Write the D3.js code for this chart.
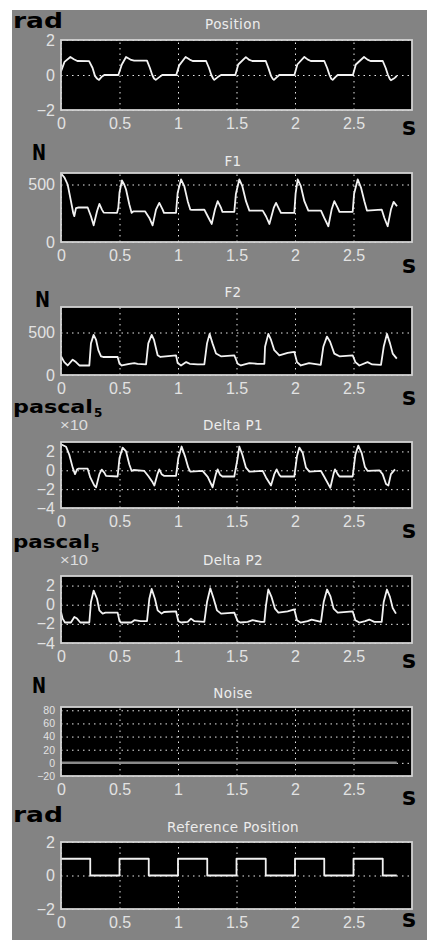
<!DOCTYPE html>
<html>
<head>
<meta charset="utf-8">
<script src="https://cdn.jsdelivr.net/npm/d3@7"></script>
<style>
  body { margin: 0; background: #fff; }
  svg { display: block; }
</style>
</head>
<body>
<div id="chart"></div>
<script>
// values (time in s)
const xTicks = [0, 0.5, 1, 1.5, 2, 2.5];
const titles = ["Position", "F1", "F2", "Delta P1", "Delta P2", "Noise", "Reference Position"];
const units = ["rad", "N", "N", "pascal", "pascal", "N", "rad"];
const yDomains = [[-2, 2], [0, 600], [0, 800], [-4, 3], [-4, 3], [-20, 85], [-2, 2]];
const yTicks = [[-2, 0, 2], [0, 500], [0, 500], [-4, -2, 0, 2], [-4, -2, 0, 2], [-20, 0, 20, 40, 60, 80], [-2, 0, 2]];

const position = [
  [0,0.2],[0.03,0.75],[0.08,1.03],[0.11,0.9],[0.14,0.8],[0.24,0.79],[0.27,0.4],[0.29,-0.05],[0.31,-0.22],[0.325,-0.28],[0.345,-0.12],[0.37,0],[0.49,0],
  [0.52,0.6],[0.556,1.03],[0.6,0.86],[0.625,0.82],[0.735,0.82],[0.76,0.4],[0.78,0],[0.795,-0.2],[0.81,-0.28],[0.835,-0.15],[0.865,0],[0.985,0],
  [1.01,0.55],[1.065,1.03],[1.1,0.88],[1.125,0.8],[1.24,0.8],[1.265,0.4],[1.285,0],[1.3,-0.2],[1.31,-0.28],[1.34,-0.12],[1.368,0],[1.49,0],
  [1.515,0.6],[1.58,1.02],[1.61,0.86],[1.635,0.8],[1.75,0.8],[1.775,0.35],[1.795,-0.05],[1.81,-0.22],[1.82,-0.28],[1.845,-0.12],[1.866,0],[1.995,0],
  [2.02,0.6],[2.08,1.03],[2.11,0.88],[2.135,0.8],[2.25,0.8],[2.275,0.4],[2.295,0],[2.31,-0.22],[2.322,-0.28],[2.345,-0.12],[2.365,0],[2.495,0],
  [2.52,0.6],[2.59,1.03],[2.62,0.88],[2.645,0.8],[2.75,0.8],[2.775,0.4],[2.795,0],[2.81,-0.22],[2.82,-0.3],[2.845,-0.2],[2.855,-0.15],[2.87,-0.05]
];

const f1 = [
  [0,590],[0.01,585],[0.03,560],[0.057,500],[0.085,355],[0.105,250],[0.114,225],[0.128,295],[0.15,300],[0.228,300],[0.256,224],[0.279,145],[0.308,267],[0.328,331],[0.35,282],[0.365,255],[0.479,253],
  [0.49,300],[0.5,430],[0.521,535],[0.54,500],[0.556,456],[0.584,326],[0.604,253],[0.62,267],[0.718,267],[0.755,209],[0.783,145],[0.812,282],[0.84,340],[0.869,282],[0.88,253],[0.983,253],
  [0.997,427],[1.026,544],[1.054,485],[1.083,355],[1.105,282],[1.12,280],[1.225,282],[1.254,224],[1.288,157],[1.316,282],[1.339,355],[1.368,296],[1.38,262],[1.481,262],
  [1.495,420],[1.524,544],[1.55,485],[1.581,355],[1.61,273],[1.724,273],[1.752,224],[1.781,157],[1.818,296],[1.838,340],[1.866,282],[1.88,253],[1.994,253],
  [2.005,420],[2.023,544],[2.05,485],[2.08,355],[2.114,273],[2.222,273],[2.25,209],[2.285,137],[2.313,282],[2.336,355],[2.365,296],[2.38,262],[2.493,262],
  [2.505,420],[2.536,544],[2.565,470],[2.593,355],[2.615,273],[2.741,282],[2.764,209],[2.792,137],[2.82,282],[2.843,349],[2.872,311]
];

const f2 = [
  [0,220],[0.028,152],[0.057,112],[0.1,180],[0.128,152],[0.157,112],[0.242,112],[0.256,372],[0.279,472],[0.3,412],[0.319,292],[0.342,220],[0.36,212],[0.484,212],
  [0.5,132],[0.52,112],[0.584,132],[0.627,140],[0.655,132],[0.727,124],[0.746,372],[0.775,472],[0.795,412],[0.826,232],[0.85,212],[0.983,232],
  [0.997,140],[1.026,112],[1.07,152],[1.1,132],[1.168,124],[1.225,124],[1.248,372],[1.27,484],[1.295,372],[1.325,252],[1.367,220],[1.481,232],
  [1.51,132],[1.538,112],[1.61,140],[1.68,132],[1.738,132],[1.744,332],[1.772,484],[1.795,412],[1.823,292],[1.866,232],[1.937,260],[1.994,272],
  [2.017,152],[2.05,112],[2.12,140],[2.22,120],[2.242,332],[2.273,452],[2.3,392],[2.336,252],[2.38,220],[2.493,232],
  [2.516,152],[2.55,112],[2.62,152],[2.66,124],[2.735,120],[2.758,332],[2.786,484],[2.812,372],[2.835,252],[2.87,192]
];

// x 10^5 pascal
const deltaP1 = [
  [0,2.76],[0.043,2.5],[0.071,1.65],[0.1,0.28],[0.12,-0.41],[0.137,0.1],[0.15,0.17],[0.228,0.17],[0.25,-0.76],[0.285,-1.62],[0.3,-1.8],[0.328,-0.41],[0.348,0.07],[0.37,-0.24],[0.385,-0.6],[0.484,-0.66],
  [0.5,1.31],[0.527,2.41],[0.556,2.0],[0.584,0.62],[0.604,-0.07],[0.62,0.03],[0.712,-0.07],[0.746,-0.6],[0.783,-1.28],[0.798,-1.62],[0.826,-0.35],[0.84,0.1],[0.86,-0.41],[0.88,-0.59],[0.983,-0.59],
  [1.003,1.31],[1.031,2.52],[1.06,1.48],[1.088,0.28],[1.105,-0.14],[1.21,-0.07],[1.254,-0.69],[1.296,-1.8],[1.325,-0.35],[1.339,0.1],[1.36,-0.48],[1.38,-0.66],[1.481,-0.66],
  [1.51,1.31],[1.524,2.52],[1.55,1.65],[1.581,0.28],[1.61,-0.14],[1.724,-0.07],[1.752,-0.76],[1.795,-1.62],[1.823,-0.41],[1.843,0.1],[1.866,-0.48],[1.88,-0.66],[1.994,-0.66],
  [2.017,1.48],[2.037,2.41],[2.066,1.83],[2.094,0.28],[2.123,-0.14],[2.222,-0.07],[2.25,-0.69],[2.302,-1.86],[2.33,-0.35],[2.342,0.1],[2.365,-0.41],[2.38,-0.66],[2.493,-0.66],
  [2.516,1.65],[2.541,2.62],[2.57,1.83],[2.598,0.34],[2.621,-0.07],[2.721,0],[2.749,-0.41],[2.778,-1.45],[2.798,-1.62],[2.82,-0.41],[2.855,0.1]
];

const deltaP2 = [
  [0,-0.76],[0.014,-1.45],[0.034,-1.86],[0.085,-1.86],[0.114,-1.28],[0.137,-1.45],[0.165,-1.86],[0.242,-1.86],[0.256,0.28],[0.279,1.48],[0.308,0.62],[0.328,-0.59],[0.356,-0.93],[0.38,-0.83],[0.484,-0.83],
  [0.5,-1.72],[0.513,-1.86],[0.6,-1.86],[0.627,-1.62],[0.68,-1.72],[0.735,-1.72],[0.755,0.62],[0.775,1.65],[0.803,0.62],[0.826,-0.59],[0.86,-0.93],[0.88,-0.76],[0.983,-0.69],
  [1.003,-1.72],[1.026,-1.86],[1.083,-1.79],[1.111,-1.45],[1.14,-1.72],[1.225,-1.79],[1.248,0.28],[1.276,1.72],[1.305,0.62],[1.333,-0.59],[1.368,-0.93],[1.481,-0.83],
  [1.51,-1.72],[1.533,-1.86],[1.595,-1.79],[1.638,-1.62],[1.709,-1.79],[1.738,-1.79],[1.752,-0.07],[1.772,1.59],[1.8,0.79],[1.829,-0.41],[1.858,-0.83],[1.937,-0.69],[1.994,-0.48],
  [2.017,-1.62],[2.046,-1.86],[2.108,-1.72],[2.142,-1.55],[2.222,-1.79],[2.245,0.28],[2.274,1.59],[2.302,0.9],[2.33,-0.41],[2.365,-0.83],[2.493,-0.69],
  [2.516,-1.62],[2.55,-1.86],[2.6,-1.72],[2.635,-1.55],[2.678,-1.79],[2.741,-1.79],[2.758,0.28],[2.786,1.59],[2.812,0.79],[2.835,-0.35],[2.863,-0.93]
];

const noise = [[0,0],[2.87,0]];

const refPosition = [
  [0,1],[0.25,1],[0.25,0],[0.5,0],[0.5,1],[0.75,1],[0.75,0],[1,0],[1,1],[1.25,1],[1.25,0],[1.5,0],
  [1.5,1],[1.75,1],[1.75,0],[2,0],[2,1],[2.25,1],[2.25,0],[2.5,0],[2.5,1],[2.75,1],[2.75,0],[2.87,0]
];

const series = [position, f1, f2, deltaP1, deltaP2, noise, refPosition];

// ---- layout (pixels) ----
const W = 427, H = 940;
const boxLeft = 61, boxRight = 412;
const boxes = [
  {top: 40, bottom: 110, titleY: 29, unitX: 13, unitY: 28, unitW: 50, sY: 135},
  {top: 173, bottom: 242, titleY: 166, unitX: 32, unitY: 160, unitW: 14, sY: 273},
  {top: 307, bottom: 375, titleY: 297, unitX: 35, unitY: 307, unitW: 15, sY: 405},
  {top: 442, bottom: 508, titleY: 430, unitX: 13, unitY: 413, unitW: 80, sY: 538, exp: true},
  {top: 576, bottom: 643, titleY: 565, unitX: 13, unitY: 548, unitW: 77, sY: 668, exp: true},
  {top: 707, bottom: 776, titleY: 698, unitX: 32, unitY: 693, unitW: 14, sY: 805},
  {top: 842, bottom: 909, titleY: 832, unitX: 13, unitY: 822, unitW: 50, sY: 927}
];

const svg = d3.select("#chart").append("svg")
  .attr("width", W)
  .attr("height", H);

// gray figure background, white strip left/top
svg.append("rect").attr("width", W).attr("height", H).attr("fill", "#fff");
svg.append("rect")
  .attr("x", 12).attr("y", 10)
  .attr("width", W - 12).attr("height", H - 10)
  .attr("fill", "#838383");

const x = d3.scaleLinear().domain([0, 3]).range([boxLeft, boxRight]);
const labelFont = "'Liberation Sans', Arial, sans-serif";

function drawPanel(i) {
  const b = boxes[i];
  const h = b.bottom - b.top;
  const w = boxRight - boxLeft;
  const y = d3.scaleLinear().domain(yDomains[i]).range([b.bottom, b.top]);
  const g = svg.append("g");

  g.append("rect")
    .attr("x", boxLeft).attr("y", b.top)
    .attr("width", w).attr("height", h)
    .attr("fill", "#000");

  // x grid + tick labels
  const xa = g.append("g")
    .attr("transform", `translate(0,${b.bottom})`)
    .call(d3.axisBottom(x).tickValues(xTicks).tickSize(-h).tickPadding(8).tickFormat(d3.format("")));
  xa.select(".domain").remove();
  xa.attr("font-family", labelFont).attr("font-size", 16);
  xa.selectAll("line").attr("stroke", "#e8e8e8").attr("stroke-dasharray", "1.5,4");
  xa.selectAll("text").attr("fill", "#e2e2e2");

  // y grid + tick labels (the Noise ones are packed tight)
  const ya = g.append("g")
    .attr("transform", `translate(${boxLeft},0)`)
    .call(d3.axisLeft(y).tickValues(yTicks[i]).tickSize(-w).tickPadding(6).tickFormat(d3.format("")));
  ya.select(".domain").remove();
  ya.attr("font-family", labelFont).attr("font-size", i === 5 ? 10.5 : 16);
  ya.selectAll("line").attr("stroke", "#e8e8e8").attr("stroke-dasharray", "1.5,4");
  ya.selectAll("text").attr("fill", "#e2e2e2");

  const line = d3.line().x(d => x(d[0])).y(d => y(d[1]));
  g.append("path")
    .datum(series[i])
    .attr("d", line)
    .attr("fill", "none")
    .attr("stroke", i === 5 ? "#8a8a8a" : "#f2f2f2")
    .attr("stroke-width", i === 5 ? 2.5 : 1.8)
    .attr("stroke-linejoin", "round");

  g.append("rect")
    .attr("x", boxLeft).attr("y", b.top)
    .attr("width", w).attr("height", h)
    .attr("fill", "none")
    .attr("stroke", "#d2d2d2")
    .attr("stroke-width", 1.8);

  // title
  g.append("text")
    .attr("x", 233).attr("y", b.titleY)
    .attr("text-anchor", "middle")
    .attr("font-family", "'DejaVu Sans', sans-serif")
    .attr("font-size", 13.5)
    .attr("letter-spacing", 0.4)
    .attr("fill", "#ececec")
    .text(titles[i]);

  // unit label (bold black)
  g.append("text")
    .attr("x", b.unitX).attr("y", b.unitY)
    .attr("font-family", "'DejaVu Sans', sans-serif")
    .attr("font-weight", "bold")
    .attr("font-size", units[i] === "pascal" ? 17 : 21)
    .attr("textLength", b.unitW)
    .attr("lengthAdjust", "spacingAndGlyphs")
    .attr("fill", "#000")
    .text(units[i]);

  if (b.exp) {
    g.append("text")
      .attr("x", b.unitX + b.unitW + 1).attr("y", b.unitY + 4)
      .attr("font-family", "'DejaVu Sans', sans-serif")
      .attr("font-weight", "bold")
      .attr("font-size", 12)
      .attr("fill", "#000")
      .text("5");
    g.append("text")
      .attr("x", 60).attr("y", b.titleY)
      .attr("font-family", labelFont)
      .attr("font-size", 14)
      .attr("textLength", 28)
      .attr("lengthAdjust", "spacingAndGlyphs")
      .attr("fill", "#dcdcdc")
      .text("\u00d710");
  }

  // seconds unit at the right end of the time axis
  g.append("text")
    .attr("x", 402).attr("y", b.sY)
    .attr("font-family", "'DejaVu Sans', sans-serif")
    .attr("font-weight", "bold")
    .attr("font-size", 25)
    .attr("textLength", 14)
    .attr("lengthAdjust", "spacingAndGlyphs")
    .attr("fill", "#000")
    .text("s");
}

for (let i = 0; i < series.length; i++) {
  drawPanel(i);
}
</script>
</body>
</html>
